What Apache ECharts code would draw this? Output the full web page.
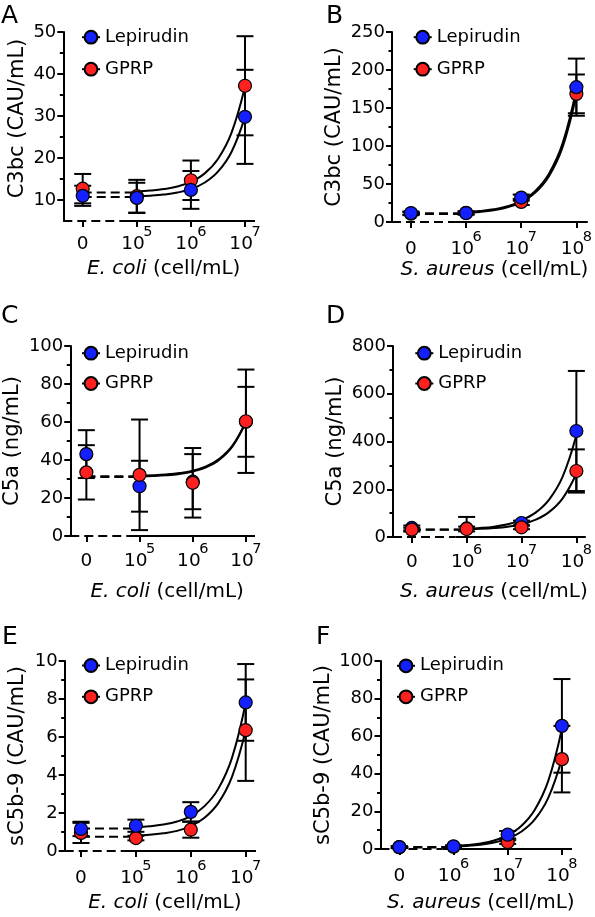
<!DOCTYPE html>
<html><head><meta charset="utf-8">
<script src="https://cdn.jsdelivr.net/npm/echarts@6/dist/echarts.min.js"></script>
<style>html,body{margin:0;padding:0;background:#fff}#c{width:595px;height:917px}</style>
</head><body><div id="c"></div>
<script>
// ---------- data ----------
const seriesNames = ['Lepirudin', 'GPRP'];
const tickBase = ['0', '10', '10', '10'];
const ecoliExp = ['', '5', '6', '7'];
const aureusExp = ['', '6', '7', '8'];
const fitX = [1, 1.25, 1.5, 1.75, 2, 2.25, 2.5, 2.75, 3];

// Panel A: C3bc, E. coli
const aLepMean = [11.0, 10.5, 12.4, 29.8];
const aLepSD = [2.4, 3.6, 4.5, 11.2];
const aGprpMean = [12.7, 10.9, 14.7, 37.2];
const aGprpSD = [3.5, 3.9, 4.7, 11.8];
const aLepFit = [10.89, 11.04, 11.30, 11.77, 12.61, 14.10, 16.74, 21.44, 29.8];
const aGprpFit = [12.05, 12.25, 12.60, 13.22, 14.32, 16.28, 19.77, 25.97, 37.0];
const aLepBase = 10.7, aGprpBase = 11.8;

// Panel B: C3bc, S. aureus
const bLepMean = [11.8, 11.8, 32.1, 177.4];
const bLepSD = [2, 2, 4, 37.6];
const bGprpMean = [11.0, 12.0, 26.4, 168.6];
const bGprpSD = [2, 2, 4, 25.5];
const bLepFit = [13.14, 14.41, 16.67, 20.69, 27.85, 40.57, 63.2, 103.4, 175.0];
const bGprpFit = [12.07, 13.28, 15.45, 19.30, 26.15, 38.33, 59.99, 98.5, 167.0];
const bLepBase = 11.5, bGprpBase = 10.5;

// Panel C: C5a, E. coli
const cLepMean = [43.1, 26.2, 28.6, 60.1];
const cLepSD = [12.6, 13.4, 14.5, 18.4];
const cGprpMean = [33.5, 32.2, 28.0, 60.4];
const cGprpSD = [14.3, 29.1, 18.3, 27.2];
const cLepFit = [31.29, 31.52, 31.92, 32.63, 33.9, 36.16, 40.17, 47.31, 60.0];
const cGprpFit = [31.79, 32.01, 32.41, 33.12, 34.38, 36.62, 40.61, 47.69, 60.3];
const cLepBase = 31.0, cGprpBase = 31.5;

// Panel D: C5a, S. aureus
const dLepMean = [38, 36, 58.6, 444];
const dLepSD = [10, 48, 10, 251.5];
const dGprpMean = [30.7, 33.5, 40.5, 276.5];
const dGprpSD = [8, 10, 8, 90.5];
const dLepFit = [34.95, 38.02, 43.49, 53.21, 70.5, 101.2, 155.9, 253.1, 426];
const dGprpFit = [32.35, 34.18, 37.43, 43.21, 53.5, 71.8, 104.3, 162.1, 265];
const dLepBase = 31, dGprpBase = 30;

// Panel E: sC5b-9, E. coli
const eLepMean = [1.16, 1.33, 2.06, 7.82];
const eLepSD = [0.38, 0.32, 0.51, 2.02];
const eGprpMean = [0.95, 0.68, 1.12, 6.36];
const eGprpSD = [0.53, 0.12, 0.42, 2.67];
const eLepFit = [1.25, 1.30, 1.39, 1.55, 1.84, 2.36, 3.27, 4.90, 7.80];
const eGprpFit = [0.81, 0.85, 0.93, 1.06, 1.31, 1.75, 2.52, 3.90, 6.35];
const eLepBase = 1.18, eGprpBase = 0.75;

// Panel F: sC5b-9, S. aureus
const fLepMean = [1.0, 1.4, 7.6, 65.5];
const fLepSD = [0.5, 0.5, 2.0, 24.9];
const fGprpMean = [1.0, 1.2, 3.7, 47.8];
const fGprpSD = [0.5, 0.5, 1.0, 17.7];
const fLepFit = [1.63, 2.12, 2.99, 4.54, 7.3, 12.2, 20.9, 36.4, 64];
const fGprpFit = [1.27, 1.64, 2.29, 3.45, 5.52, 9.19, 15.7, 27.3, 48.0];
const fLepBase = 1.0, fGprpBase = 0.8;

// ---------- layout / style ----------
const FONT = 'DejaVu Sans';
const BLUE = '#1420ff', RED = '#ff2020';
const AXIS_BREAK = 0.8;

const panels = [
  { letter: 'A', yName: 'C3bc (CAU/mL)', bug: 'E. coli', exp: ecoliExp, ymin: 5, ymax: 50,
    yTicks: [10, 20, 30, 40, 50], yMinor: [15, 25, 35, 45],
    lep: [aLepMean, aLepSD, aLepFit, aLepBase], gprp: [aGprpMean, aGprpSD, aGprpFit, aGprpBase], redOnTop: false,
    L: { axis: 63.3, x0: 82.7, s: 54.1, end: 255, top: 32, bottom: 221, legL: 81, legT: 28.2, legGap: 15,
         gapX: 36.5, gapY: 34, yPad: 16, labM: 5, lx: 1, ly: 4 } },
  { letter: 'B', yName: 'C3bc (CAU/mL)', bug: 'S. aureus', exp: aureusExp, ymin: 0, ymax: 250,
    yTicks: [0, 50, 100, 150, 200, 250], yMinor: [25, 75, 125, 175, 225],
    lep: [bLepMean, bLepSD, bLepFit, bLepBase], gprp: [bGprpMean, bGprpSD, bGprpFit, bGprpBase], redOnTop: false,
    L: { axis: 392, x0: 411, s: 55.2, end: 588, top: 32, bottom: 222, legL: 412.7, legT: 28.2, legGap: 15,
         gapX: 36, gapY: 42, yPad: 0, labM: 9, lx: 326, ly: 4 } },
  { letter: 'C', yName: 'C5a (ng/mL)', bug: 'E. coli', exp: ecoliExp, ymin: 0, ymax: 100,
    yTicks: [0, 20, 40, 60, 80, 100], yMinor: [10, 30, 50, 70, 90],
    lep: [cLepMean, cLepSD, cLepFit, cLepBase], gprp: [cGprpMean, cGprpSD, cGprpFit, cGprpBase], redOnTop: true,
    L: { axis: 63.3, x0: 80, s: 55.2, end: 255, top: 346, bottom: 536, legL: 81, legT: 344.2, legGap: 13.3,
         gapX: 45, gapY: 36, yPad: 0, labM: 7, lx: 1, ly: 304 } },
  { letter: 'D', yName: 'C5a (ng/mL)', bug: 'S. aureus', exp: aureusExp, ymin: 0, ymax: 800,
    yTicks: [0, 200, 400, 600, 800], yMinor: [100, 300, 500, 700],
    lep: [dLepMean, dLepSD, dLepFit, dLepBase], gprp: [dGprpMean, dGprpSD, dGprpFit, dGprpBase], redOnTop: true,
    L: { axis: 393, x0: 412, s: 55.5, end: 588, top: 346, bottom: 537, legL: 414.3, legT: 344.2, legGap: 13.3,
         gapX: 43.5, gapY: 42, yPad: 0, labM: 7, lx: 326, ly: 304 } },
  { letter: 'E', yName: 'sC5b-9 (CAU/mL)', bug: 'E. coli', exp: ecoliExp, ymin: 0, ymax: 10,
    yTicks: [0, 2, 4, 6, 8, 10], yMinor: [1, 3, 5, 7, 9],
    lep: [eLepMean, eLepSD, eLepFit, eLepBase], gprp: [eGprpMean, eGprpSD, eGprpFit, eGprpBase], redOnTop: false,
    L: { axis: 64.7, x0: 81, s: 54.9, end: 256, top: 661, bottom: 851, legL: 81, legT: 656.5, legGap: 14.3,
         gapX: 40.5, gapY: 35.5, yPad: 0, labM: 9, lx: 2, ly: 625 } },
  { letter: 'F', yName: 'sC5b-9 (CAU/mL)', bug: 'S. aureus', exp: aureusExp, ymin: 0, ymax: 100,
    yTicks: [0, 20, 40, 60, 80, 100], yMinor: [10, 30, 50, 70, 90],
    lep: [fLepMean, fLepSD, fLepFit, fLepBase], gprp: [fGprpMean, fGprpSD, fGprpFit, fGprpBase], redOnTop: false,
    L: { axis: 380.5, x0: 399.3, s: 54.2, end: 572, top: 661, bottom: 849, legL: 396, legT: 656.8, legGap: 14,
         gapX: 42.5, gapY: 35, yPad: 0, labM: 9, lx: 316, ly: 625 } }
];

const option = {
  animation: false, backgroundColor: '#fff',
  title: [], grid: [], xAxis: [], yAxis: [], legend: [], series: []
};
const black = { color: '#000', width: 2 };

panels.forEach((p, i) => {
  const L = p.L;
  const xmin = (L.axis - L.x0) / L.s;
  const xmax = 3 + (L.end - (L.x0 + 3 * L.s)) / L.s;
  option.grid.push({ left: L.axis, top: L.top, width: L.end - L.axis, height: L.bottom - L.top });
  option.title.push({ text: p.letter, left: L.lx, top: L.ly, padding: 0,
    textStyle: { fontFamily: FONT, fontSize: 25, fontWeight: 'normal', color: '#000' } });
  option.xAxis.push({
    type: 'value', gridIndex: i, position: 'bottom', min: xmin, max: xmax,
    splitLine: { show: false }, axisLine: { show: false, onZero: false },
    axisTick: { show: true, customValues: [0, 1, 2, 3], length: 6, lineStyle: black },
    axisLabel: {
      customValues: [0, 1, 2, 3], margin: L.labM,
      formatter: v => { const k = Math.round(v); return p.exp[k] ? '{b|' + tickBase[k] + '}{s|' + p.exp[k] + '}' : '{b|' + tickBase[k] + '}'; },
      rich: {
        b: { fontFamily: FONT, fontSize: 18.5, color: '#000', lineHeight: 28, verticalAlign: 'bottom' },
        s: { fontFamily: FONT, fontSize: 14.5, color: '#000', lineHeight: 14, padding: [0, 0, 14, -1.5], verticalAlign: 'bottom' }
      }
    },
    name: '{i|' + p.bug + '}{n| (cell/mL)}', nameLocation: 'middle', nameGap: L.gapX,
    nameTextStyle: { padding: [0, 0, 0, 9], rich: {
      i: { fontFamily: FONT, fontSize: 20, fontStyle: 'italic', color: '#000', lineHeight: 22 },
      n: { fontFamily: FONT, fontSize: 20, color: '#000', lineHeight: 22 } } }
  });
  option.yAxis.push({
    type: 'value', gridIndex: i, position: 'left', min: p.ymin, max: p.ymax, splitLine: { show: false },
    axisLine: { show: true, onZero: false, lineStyle: black },
    axisTick: { show: true, customValues: p.yTicks, length: 6, lineStyle: black },
    axisLabel: { customValues: p.yTicks, margin: 7, fontFamily: FONT, fontSize: 18, color: '#000' },
    name: p.yName, nameLocation: 'middle', nameRotate: 90, nameGap: L.gapY,
    nameTextStyle: { fontFamily: FONT, fontSize: 21, color: '#000', lineHeight: 24, padding: [0, 0, 0, L.yPad] }
  });
  option.yAxis.push({
    type: 'value', gridIndex: i, position: 'left', offset: 0, min: p.ymin, max: p.ymax, splitLine: { show: false },
    axisLine: { show: false, onZero: false }, axisLabel: { show: false },
    axisTick: { show: true, customValues: p.yMinor, length: 3.5, lineStyle: black }
  });
  option.legend.push({
    orient: 'vertical', left: L.legL, top: L.legT, data: seriesNames, selectedMode: false,
    itemWidth: 18, itemHeight: 16, itemGap: L.legGap - 1, padding: 0,
    textStyle: { fontFamily: FONT, fontSize: 18, color: '#000', lineHeight: 16 },
    lineStyle: { color: '#000', width: 2, opacity: 1, type: 'solid' }
  });

  const yi = 2 * i;
  // axis baseline: dashed before the break, solid after
  option.series.push({ type: 'line', xAxisIndex: i, yAxisIndex: yi, data: [[xmin, p.ymin], [AXIS_BREAK, p.ymin]],
    symbol: 'none', clip: false, silent: true, z: 3, lineStyle: { color: '#000', width: 2, type: [9, 5] } });
  option.series.push({ type: 'line', xAxisIndex: i, yAxisIndex: yi, data: [[AXIS_BREAK, p.ymin], [xmax, p.ymin]],
    symbol: 'none', clip: false, silent: true, z: 3, lineStyle: { color: '#000', width: 2 } });

  const groups = [[p.lep, BLUE, seriesNames[0]], [p.gprp, RED, seriesNames[1]]];
  groups.forEach(([g, col, nm]) => {
    const [mean, sd, fit, base] = g;
    option.series.push({
      type: 'custom', xAxisIndex: i, yAxisIndex: yi, silent: true, clip: false, z: 2,
      data: mean.map((m, k) => [k, m - sd[k], m + sd[k]]),
      encode: { x: 0, y: [1, 2] },
      renderItem: (params, api) => {
        const x = api.value(0);
        const lo0 = api.value(1), hi = api.value(2);
        const lo = Math.max(lo0, p.ymin);
        const a = api.coord([x, hi]), b = api.coord([x, lo]);
        const w = 8.5, st = { stroke: '#000', lineWidth: 2 };
        const ch = [
          { type: 'line', shape: { x1: a[0], y1: a[1], x2: b[0], y2: b[1] }, style: st },
          { type: 'line', shape: { x1: a[0] - w, y1: a[1], x2: a[0] + w, y2: a[1] }, style: st }
        ];
        if (lo0 >= p.ymin) ch.push({ type: 'line', shape: { x1: b[0] - w, y1: b[1], x2: b[0] + w, y2: b[1] }, style: st });
        return { type: 'group', children: ch };
      }
    });
    option.series.push({ type: 'line', xAxisIndex: i, yAxisIndex: yi, data: fitX.map((x, k) => [x, fit[k]]),
      smooth: 0.4, symbol: 'none', clip: false, silent: true, z: 3,
      lineStyle: { color: '#000', width: 2 } });
    option.series.push({ type: 'line', xAxisIndex: i, yAxisIndex: yi, data: [[0, base], [1, base]],
      symbol: 'none', clip: false, silent: true, z: 3, lineStyle: { color: '#000', width: 2, type: [9, 5] } });
  });
  groups.forEach(([g, col, nm], gi) => {
    const onTop = p.redOnTop ? gi === 1 : gi === 0;
    option.series.push({ type: 'line', name: nm, xAxisIndex: i, yAxisIndex: yi,
      data: g[0].map((m, k) => [k, m]), symbol: 'circle', symbolSize: 13, showSymbol: true, showAllSymbol: true,
      clip: false, silent: true, z: onTop ? 6 : 5,
      lineStyle: { width: 0, opacity: 0 },
      itemStyle: { color: col, borderColor: '#000', borderWidth: 1.2 } });
  });
});

const chart = echarts.init(document.getElementById('c'), null, { renderer: 'canvas' });
chart.setOption(option);
</script></body></html>
